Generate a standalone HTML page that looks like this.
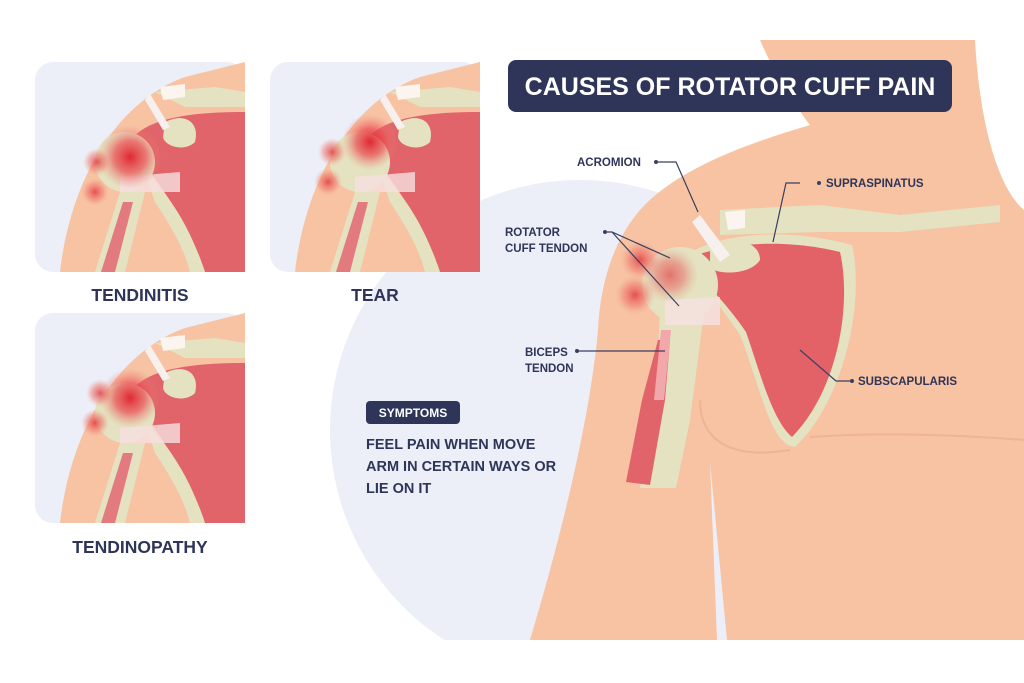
<!DOCTYPE html>
<html><head><meta charset="utf-8"><style>
html,body{margin:0;padding:0;background:#fff;}
svg{display:block}
text{font-family:"Liberation Sans",sans-serif;font-weight:bold;fill:#2e3558}
</style></head><body>
<svg width="1024" height="683" viewBox="0 0 1024 683" xmlns="http://www.w3.org/2000/svg">
<defs>
<radialGradient id="pain" cx="50%" cy="50%" r="50%">
<stop offset="0" stop-color="#e01e2a" stop-opacity="0.95"/>
<stop offset="0.5" stop-color="#ea4a50" stop-opacity="0.7"/>
<stop offset="1" stop-color="#f08a80" stop-opacity="0"/>
</radialGradient>
<radialGradient id="ring" cx="50%" cy="50%" r="50%">
<stop offset="0" stop-color="#e0303a" stop-opacity="0.8"/>
<stop offset="0.6" stop-color="#ee7a70" stop-opacity="0.5"/>
<stop offset="1" stop-color="#f4a890" stop-opacity="0"/>
</radialGradient>
<g id="sh">
<rect width="210" height="210" rx="18" fill="#eceef8"/>
<path d="M25 210 C35 120 80 40 150 15 L210 0 L210 210 Z" fill="#f7c3a3"/>
<path d="M120 30 L180 25 L210 30 L210 45 L150 45 Z" fill="#e4e2c0"/>
<path d="M125 25 L150 22 L150 35 L128 38 Z" fill="#fbf4ef"/>
<path d="M95 80 C110 55 160 50 210 50 L210 210 L170 210 C150 150 120 120 95 80 Z" fill="#e06469"/>
<path d="M170 210 C150 150 125 125 110 110 L120 140 C140 170 150 190 155 210 Z" fill="#e4e2c0"/>
<path d="M60 210 L85 130 L110 130 L90 210 Z" fill="#e4e2c0"/>
<path d="M66 210 L88 140 L98 140 L80 210 Z" fill="#e27a80"/>
<circle cx="90" cy="100" r="30" fill="#e4e2c0"/>
<path d="M130 60 C150 50 165 60 160 80 C150 90 130 85 128 75 Z" fill="#e4e2c0"/>
<path d="M115 32 L135 65 L128 68 L110 38 Z" fill="#f8f0ee"/>
<path d="M85 115 L145 110 L145 130 L85 130 Z" fill="#f6e0e0" opacity="0.8"/>
</g>
</defs>

<circle cx="580" cy="430" r="250" fill="#eceef8"/>
<rect x="300" y="640" width="724" height="43" fill="#fff"/>

<!-- body -->
<path d="M760 40 L975 40 C980 130 1000 190 1024 210 L1024 640 L530 640 C560 540 590 420 598 330 C600 290 610 245 640 210 C680 165 760 140 810 125 C795 105 775 75 760 40 Z" fill="#f7c3a3"/>
<path d="M710 462 L717 640 L727 640 Z" fill="#eceef8"/>
<path d="M810 437 C880 432 960 435 1024 440" stroke="#eeb494" stroke-width="2" fill="none"/>
<path d="M700 400 C700 440 730 460 790 450" stroke="#eeb494" stroke-width="2" fill="none"/>

<!-- main anatomy -->
<path d="M720 210 L820 205 L900 215 L1000 205 L1000 222 L900 232 L820 232 L720 235 Z" fill="#e4e2c0"/>
<path d="M725 212 L745 210 L745 228 L728 230 Z" fill="#fbf4ef"/>
<path d="M695 250 C740 228 805 232 852 245 C865 300 845 400 795 447 C770 445 760 385 740 335 C720 305 700 285 695 250 Z" fill="#e4e2c0"/>
<path d="M688 258 C740 238 800 242 840 252 C852 305 838 390 792 437 C772 420 760 372 746 332 C726 302 705 285 688 258 Z" fill="#e36268"/>
<path d="M660 310 L705 305 L690 420 L676 488 L640 488 L655 420 Z" fill="#e4e2c0"/>
<path d="M658 340 L670 340 L665 400 L650 485 L626 482 L642 400 Z" fill="#e06469"/>
<path d="M661 330 L671 330 L664 400 L654 400 Z" fill="#f2a8aa"/>
<circle cx="680" cy="285" r="38" fill="#e4e2c0"/>
<path d="M710 250 C730 235 760 240 760 260 C750 275 720 275 710 268 Z" fill="#e4e2c0"/>
<path d="M700 215 L730 255 L720 262 L692 222 Z" fill="#f8f0ee"/>
<path d="M665 300 L720 297 L720 325 L665 325 Z" fill="#f6e0e0" opacity="0.85"/>
<circle cx="640" cy="260" r="20" fill="url(#ring)"/>
<circle cx="635" cy="295" r="20" fill="url(#ring)"/>
<circle cx="670" cy="275" r="28" fill="url(#pain)" opacity="0.6"/>

<g stroke="#3a4060" stroke-width="1.2" fill="none">
<path d="M658 162 L676 162 L698 212"/>
<path d="M800 183 L786 183 L773 242"/>
<path d="M607 232 L612 232 L670 258 M612 232 L679 306"/>
<path d="M578 351 L665 351"/>
<path d="M800 350 L836 381 L852 381"/>
</g>
<g fill="#3a4060"><circle cx="656" cy="162" r="2"/><circle cx="819" cy="183" r="2"/><circle cx="605" cy="232" r="2"/><circle cx="577" cy="351" r="2"/><circle cx="852" cy="381" r="2"/></g>

<rect x="508" y="60" width="444" height="52" rx="8" fill="#2e3558"/>
<text x="730" y="95" text-anchor="middle" font-size="25" style="fill:#fff">CAUSES OF ROTATOR CUFF PAIN</text>

<g font-size="11.5">
<text x="577" y="166">ACROMION</text>
<text x="826" y="187">SUPRASPINATUS</text>
<text x="505" y="236">ROTATOR</text>
<text x="505" y="252">CUFF TENDON</text>
<text x="525" y="356">BICEPS</text>
<text x="525" y="372">TENDON</text>
<text x="858" y="385">SUBSCAPULARIS</text>
</g>
<rect x="366" y="401" width="94" height="23" rx="4" fill="#2e3558"/>
<text x="413" y="417" text-anchor="middle" font-size="12" style="fill:#fff">SYMPTOMS</text>
<g font-size="14.5" style="font-weight:normal">
<text x="366" y="449">FEEL PAIN WHEN MOVE</text>
<text x="366" y="471">ARM IN CERTAIN WAYS OR</text>
<text x="366" y="493">LIE ON IT</text>
</g>

<g transform="translate(35,62)"><use href="#sh"/>
<circle cx="95" cy="95" r="32" fill="url(#pain)"/><circle cx="62" cy="100" r="14" fill="url(#ring)"/><circle cx="60" cy="130" r="14" fill="url(#ring)"/></g>
<g transform="translate(270,62)"><use href="#sh"/>
<circle cx="100" cy="80" r="28" fill="url(#pain)"/><circle cx="62" cy="90" r="14" fill="url(#ring)"/><circle cx="58" cy="120" r="14" fill="url(#ring)"/></g>
<g transform="translate(35,313)"><use href="#sh"/>
<circle cx="95" cy="85" r="30" fill="url(#pain)"/><circle cx="65" cy="80" r="14" fill="url(#ring)"/><circle cx="60" cy="110" r="14" fill="url(#ring)"/></g>

<g font-size="17.5">
<text x="140" y="301" text-anchor="middle">TENDINITIS</text>
<text x="375" y="301" text-anchor="middle">TEAR</text>
<text x="140" y="553" text-anchor="middle">TENDINOPATHY</text>
</g>
</svg>
</body></html>
